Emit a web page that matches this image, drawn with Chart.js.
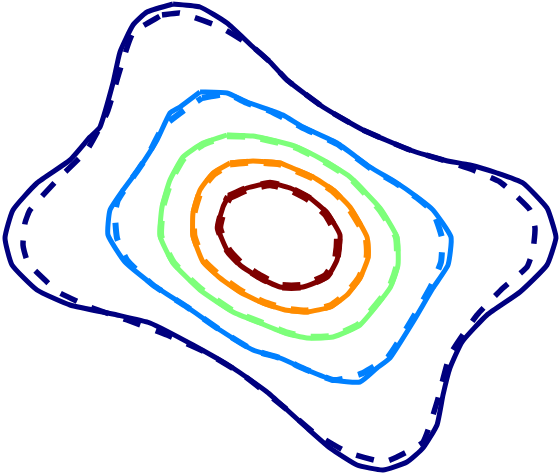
<!DOCTYPE html>
<html>
<head>
<meta charset="utf-8">
<style>
html,body{margin:0;padding:0;background:#fff;}
#wrap{width:559px;height:475px;position:relative;}
</style>
<script src="https://cdn.jsdelivr.net/npm/chart.js@4"></script>
</head>
<body>
<div id="wrap"><canvas id="c"></canvas></div>
<script>
// Contour lines as [x, y] pairs (y grows downward)
const levelColors = ['#00007f', '#0080ff', '#7dff7a', '#ff8c00', '#7f0000'];

const solid0 = [[173,4],[200,7],[227,23],[253,47],[270,62],[287,80],[323,107],[363,130],[410,150],[443,160],[470,165],[497,173],[523,183],[547,208],[553,225],[556,238],[547,265],[520,292],[487,315],[462,342],[450,368],[443,395],[437,425],[423,448],[407,462],[383,470],[357,465],[330,448],[307,428],[285,408],[267,392],[233,368],[193,345],[150,323],[117,315],[70,305],[37,290],[12,265],[5,238],[13,210],[37,183],[70,160],[90,137],[100,127],[113,83],[120,52],[133,25],[147,12],[173,4]];
const dashed0 = [[162,15],[180,13],[220,27],[253,47],[270,62],[287,80],[323,107],[363,130],[410,150],[443,160],[473,170],[500,182],[513,193],[530,210],[535,228],[533,250],[527,267],[503,288],[477,315],[450,355],[437,402],[423,442],[397,457],[383,462],[347,452],[313,432],[285,408],[243,375],[207,353],[167,335],[127,320],[90,307],[58,292],[45,280],[28,263],[23,245],[25,223],[30,210],[57,180],[87,150],[107,113],[120,70],[133,33],[162,15]];

const solid1 = [[200,92],[227,93],[247,102],[270,110],[283,115],[303,127],[337,143],[370,167],[397,183],[417,197],[433,210],[451,237],[448,265],[433,288],[413,322],[390,358],[377,368],[360,382],[333,380],[307,370],[280,358],[253,350],[220,330],[187,307],[153,285],[125,262],[108,235],[110,210],[123,190],[140,167],[157,140],[170,113],[180,107],[200,92]];
const dashed1 = [[202,98],[227,94],[247,103],[270,111],[303,128],[337,144],[370,168],[397,184],[417,198],[433,212],[442,238],[441,262],[431,286],[411,321],[388,357],[363,373],[347,378],[333,380],[307,370],[280,358],[253,350],[220,330],[187,307],[153,285],[127,260],[117,238],[115,213],[118,200],[133,177],[147,157],[163,127],[187,108],[202,98]];

const solid2 = [[227,135],[253,136],[280,142],[297,147],[323,160],[350,177],[380,208],[397,237],[398,265],[390,288],[360,325],[333,337],[307,338],[285,333],[260,323],[233,312],[200,290],[173,263],[160,236],[162,207],[170,180],[183,157],[203,143],[227,135]];
const dashed2 = [[227,136],[253,137],[280,143],[297,148],[323,161],[350,178],[379,209],[396,237],[397,265],[389,288],[359,324],[333,336],[307,337],[285,332],[260,322],[233,311],[201,289],[174,263],[161,236],[163,207],[171,181],[184,158],[204,144],[227,136]];

const solid3 = [[230,163],[253,161],[280,163],[290,167],[313,177],[333,190],[350,207],[367,237],[368,258],[360,278],[347,295],[330,307],[307,312],[285,310],[263,303],[240,292],[220,278],[203,262],[193,236],[193,213],[200,190],[213,173],[230,163]];
const dashed3 = [[230,164],[253,162],[280,164],[290,168],[313,178],[333,191],[349,208],[366,237],[367,258],[359,278],[346,294],[330,306],[307,311],[285,309],[263,302],[241,291],[221,277],[204,261],[194,236],[194,213],[201,190],[214,174],[230,164]];

const solid4 = [[228,197],[247,188],[270,183],[290,188],[310,198],[327,213],[340,235],[337,260],[327,277],[303,287],[280,287],[258,277],[240,265],[227,250],[218,228],[223,207],[228,197]];
const dashed4 = [[229,197],[247,189],[270,184],[290,189],[309,199],[326,214],[338,236],[336,260],[326,276],[303,286],[280,286],[259,276],[241,264],[228,250],[219,228],[224,207],[229,197]];

const solidLines = [solid0, solid1, solid2, solid3, solid4];
const dashedLines = [dashed0, dashed1, dashed2, dashed3, dashed4];

const toPts = arr => arr.map(p => ({x: p[0], y: p[1]}));
const datasets = [];
dashedLines.forEach((l, i) => {
  datasets.push({
    data: toPts(l), showLine: true, pointRadius: 0, borderColor: levelColors[i],
    borderWidth: [5.5, 6, 6.5, 7, 8.5][i], borderDash: [18, 16], tension: 0.15, fill: false,
    borderCapStyle: 'butt', borderJoinStyle: 'miter'
  });
});
solidLines.forEach((l, i) => {
  datasets.push({
    data: toPts(l), showLine: true, pointRadius: 0, borderColor: levelColors[i],
    borderWidth: 5, tension: 0.15, fill: false, borderJoinStyle: 'round'
  });
});

new Chart(document.getElementById('c'), {
  type: 'scatter',
  data: { datasets },
  options: {
    responsive: true, maintainAspectRatio: false, animation: false,
    layout: { padding: 0 },
    plugins: { legend: { display: false }, tooltip: { enabled: false } },
    scales: {
      x: { type: 'linear', min: 0, max: 559, display: false },
      y: { type: 'linear', min: 0, max: 475, reverse: true, display: false }
    }
  }
});
</script>
</body>
</html>
